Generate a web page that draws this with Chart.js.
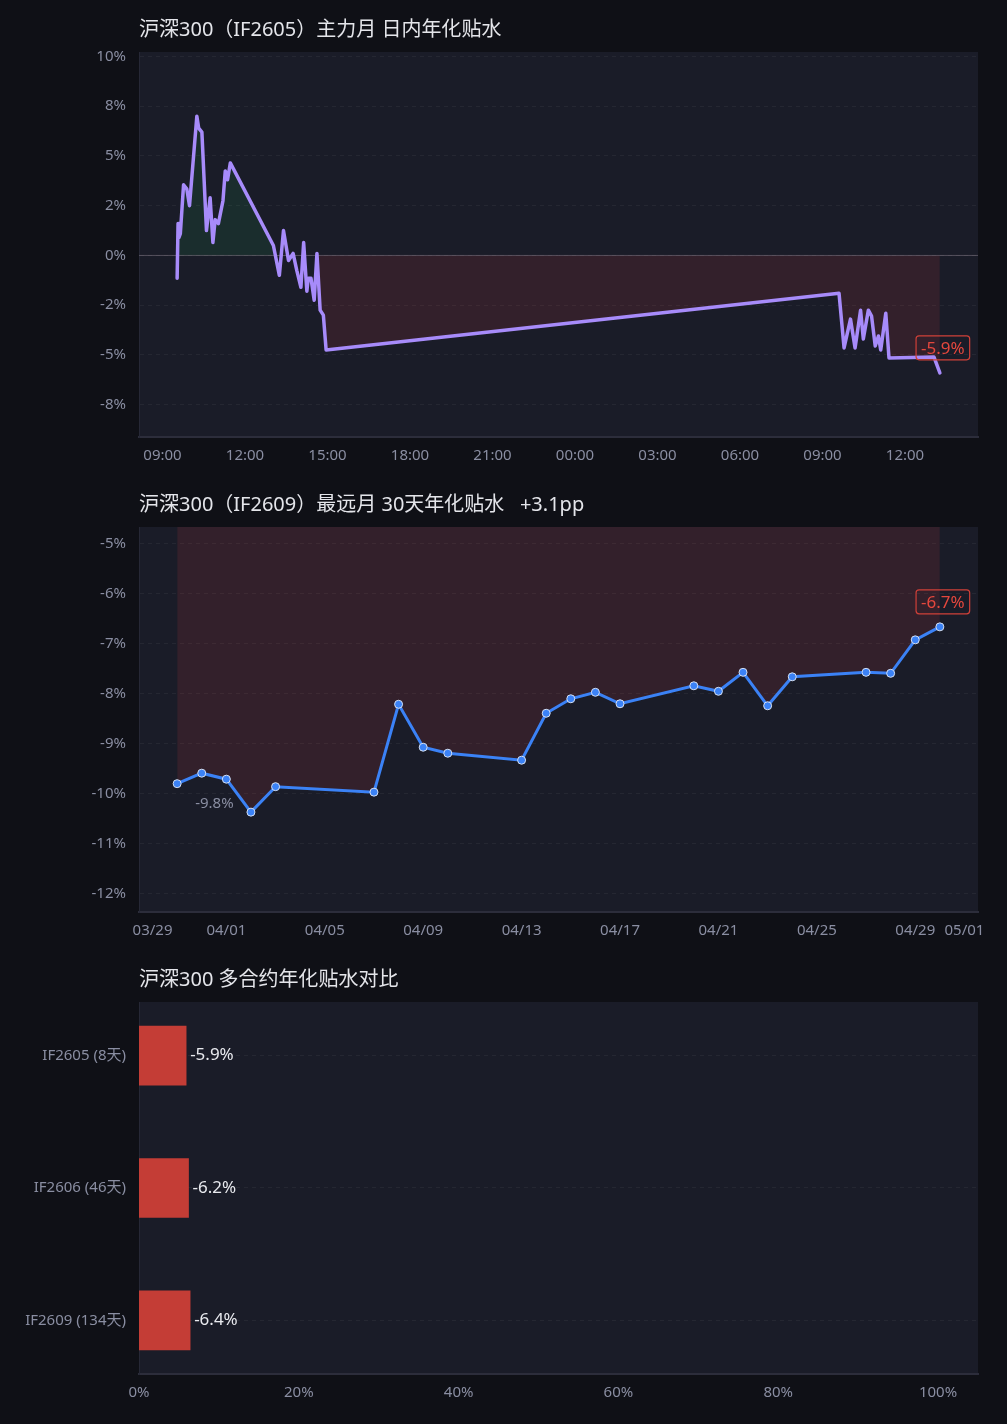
<!DOCTYPE html>
<html>
<head>
<meta charset="utf-8">
<script src="https://cdn.jsdelivr.net/npm/chart.js@4.4.1/dist/chart.umd.min.js"></script>
<style>
  html, body { margin: 0; padding: 0; background: #0f1016; }
  .block { position: relative; width: 1007px; }
  canvas { display: block; }
</style>
</head>
<body>
<div class="block" style="height:475px"><canvas id="intradayChart" width="1007" height="475"></canvas></div>
<div class="block" style="height:475px"><canvas id="farChart" width="1007" height="475"></canvas></div>
<div class="block" style="height:474px"><canvas id="compareChart" width="1007" height="474"></canvas></div>
<script>
// IF2605 intraday annualised basis (%), two sessions
const intradayTimes = [
  '04/29 09:32', '04/29 09:34', '04/29 09:36', '04/29 09:39', '04/29 09:46', '04/29 09:53', '04/29 09:59',
  '04/29 10:15', '04/29 10:19', '04/29 10:26', '04/29 10:36', '04/29 10:44', '04/29 10:50', '04/29 10:55',
  '04/29 11:02', '04/29 11:12', '04/29 11:17', '04/29 11:22', '04/29 11:28',
  '04/29 13:02', '04/29 13:15', '04/29 13:24', '04/29 13:35', '04/29 13:45', '04/29 13:53', '04/29 14:02',
  '04/29 14:08', '04/29 14:15', '04/29 14:18', '04/29 14:24', '04/29 14:31', '04/29 14:37', '04/29 14:44',
  '04/29 14:51', '04/29 14:57',
  '04/30 09:36', '04/30 09:47', '04/30 10:01', '04/30 10:11', '04/30 10:23', '04/30 10:29', '04/30 10:40',
  '04/30 10:47', '04/30 10:55', '04/30 11:02', '04/30 11:07', '04/30 11:18', '04/30 11:25', '04/30 13:03',
  '04/30 13:16'
];
const intradayValues = [
  -1.15, 1.6, 0.9, 1.1, 3.55, 3.35, 2.5,
  7.0, 6.4, 6.2, 1.25, 2.9, 0.65, 1.8,
  1.6, 2.75, 4.25, 3.8, 4.65,
  0.5, -1.0, 1.25, -0.25, 0.1, -0.75, -1.6,
  0.65, -1.8, -1.15, -1.15, -2.25, 0.1, -2.75,
  -3.0, -4.75,
  -1.9, -4.65, -3.2, -4.65, -2.75, -4.2, -2.75,
  -3.05, -4.55, -4.05, -4.75, -2.9, -5.15, -5.1,
  -5.9
];

// IF2609 daily 30-day annualised basis (%)
const farDates = [
  '03/30', '03/31', '04/01', '04/02', '04/03', '04/07', '04/08', '04/09', '04/10',
  '04/13', '04/14', '04/15', '04/16', '04/17', '04/20', '04/21', '04/22', '04/23',
  '04/24', '04/27', '04/28', '04/29', '04/30'
];
const farValues = [
  -9.8, -9.59, -9.71, -10.37, -9.86, -9.97, -8.21, -9.07, -9.19,
  -9.33, -8.39, -8.1, -7.97, -8.2, -7.84, -7.95, -7.57, -8.24,
  -7.66, -7.57, -7.59, -6.92, -6.66
];
const farTickLabels = ['03/29', '04/01', '04/05', '04/09', '04/13', '04/17', '04/21', '04/25', '04/29', '05/01'];

// contracts compared
const contractNames = ['IF2605 (8天)', 'IF2606 (46天)', 'IF2609 (134天)'];
const contractValues = [-5.9, -6.2, -6.4];
const compareTicks = [0, 20, 40, 60, 80, 100];

const YEAR = 2026;
const FONT = '"Noto Sans", "Noto Sans CJK SC", sans-serif';
const TITLE_FONT = '"Noto Sans", "Noto Sans CJK KR", "Noto Sans CJK SC", sans-serif';
const TICK_COLOR = '#8a8ea2';
const GRID_COLOR = 'rgba(255,255,255,0.05)';
const RED_FILL = 'rgba(239,68,68,0.12)';

Chart.defaults.font.family = FONT;
Chart.defaults.font.size = 15;
Chart.defaults.color = TICK_COLOR;
Chart.defaults.animation = false;

function toMinutes(s) {
  const [md, hm] = s.split(' ');
  const [m, d] = md.split('/').map(Number);
  const [h, mi] = hm.split(':').map(Number);
  return Date.UTC(YEAR, m - 1, d, h, mi) / 60000;
}
function toDays(s) {
  const [m, d] = s.split('/').map(Number);
  return Date.UTC(YEAR, m - 1, d) / 86400000;
}
// 7.5 -> 8, 2.5 -> 2 (half to even)
function roundEven(v) {
  return Math.abs(v % 1) === 0.5 ? 2 * Math.round(v / 2) : Math.round(v);
}
function padRange(vals, frac, minPad) {
  const lo = Math.min(...vals), hi = Math.max(...vals);
  const p = Math.max(minPad, (hi - lo) * frac);
  return [lo - p, hi + p];
}
function stepTicks(step) {
  return scale => {
    const out = [];
    for (let v = Math.ceil(scale.min / step - 1e-9) * step; v <= scale.max + 1e-9; v += step) {
      out.push({ value: +v.toFixed(6) });
    }
    scale.ticks = out;
  };
}

const plotBg = {
  id: 'plotBg',
  beforeDraw(chart) {
    const { ctx, chartArea: a } = chart;
    ctx.save();
    ctx.fillStyle = '#1a1c28';
    ctx.fillRect(a.left, a.top, a.right - a.left, a.bottom - a.top);
    ctx.restore();
  }
};

const zeroLine = {
  id: 'zeroLine',
  beforeDatasetsDraw(chart) {
    const y = chart.scales.y;
    if (y.min > 0 || y.max < 0) return;
    const py = y.getPixelForValue(0);
    const { ctx, chartArea: a } = chart;
    ctx.save();
    ctx.strokeStyle = 'rgba(150,140,155,0.45)';
    ctx.lineWidth = 1;
    ctx.beginPath();
    ctx.moveTo(a.left, py);
    ctx.lineTo(a.right, py);
    ctx.stroke();
    ctx.restore();
  }
};

// red box with the latest value above the last point
const lastValueBox = {
  id: 'lastValueBox',
  afterDatasetsDraw(chart) {
    const meta = chart.getDatasetMeta(0);
    const pt = meta.data[meta.data.length - 1];
    const ds = chart.data.datasets[0].data;
    const val = ds[ds.length - 1].y;
    const text = val.toFixed(1) + '%';
    const { ctx } = chart;
    ctx.save();
    ctx.font = '17px ' + FONT;
    const w = ctx.measureText(text).width + 10;
    const h = 24;
    const cx = pt.x + 3, cy = pt.y - 25;
    ctx.strokeStyle = '#cf4038';
    ctx.lineWidth = 1.2;
    ctx.beginPath();
    ctx.roundRect(cx - w / 2, cy - h / 2, w, h, 3);
    ctx.stroke();
    ctx.fillStyle = '#e4473d';
    ctx.textAlign = 'center';
    ctx.textBaseline = 'middle';
    ctx.fillText(text, cx, cy + 1);
    ctx.restore();
  }
};

// grey label for the first value
const firstValueLabel = {
  id: 'firstValueLabel',
  afterDatasetsDraw(chart) {
    const pt = chart.getDatasetMeta(0).data[0];
    const val = chart.data.datasets[0].data[0].y;
    const { ctx } = chart;
    ctx.save();
    ctx.font = '15px ' + FONT;
    ctx.fillStyle = '#8a8ea2';
    ctx.textAlign = 'left';
    ctx.textBaseline = 'middle';
    ctx.fillText(val.toFixed(1) + '%', pt.x + 18, pt.y + 20);
    ctx.restore();
  }
};

const barValueLabels = {
  id: 'barValueLabels',
  afterDatasetsDraw(chart) {
    const { ctx } = chart;
    ctx.save();
    ctx.font = '17px ' + FONT;
    ctx.fillStyle = '#e8e9ee';
    ctx.textAlign = 'left';
    ctx.textBaseline = 'middle';
    chart.getDatasetMeta(0).data.forEach((bar, i) => {
      ctx.fillText(contractValues[i].toFixed(1) + '%', bar.x + 4, bar.y);
    });
    ctx.restore();
  }
};

function titleOpts(text) {
  return {
    display: true,
    text,
    align: 'start',
    fullSize: false,
    color: '#e4e5ea',
    font: { size: 20, weight: 'normal', family: TITLE_FONT },
    padding: { top: 18, bottom: 10 }
  };
}

function baseY(range, step, fmt) {
  return {
    min: range[0],
    max: range[1],
    afterBuildTicks: stepTicks(step),
    afterFit: s => { s.width = 139; },
    grid: { color: GRID_COLOR, drawTicks: false },
    border: { color: '#262836', width: 1, dash: [4, 4] },
    ticks: { padding: 13, color: TICK_COLOR, callback: fmt }
  };
}

// ---- chart 1: intraday
const intradayPts = intradayTimes.map((t, i) => ({ x: toMinutes(t), y: intradayValues[i] }));
const greenEnd = intradayValues.findIndex((v, i) => i > 0 && v < 0) - 1;
let redStart = 0;
intradayValues.forEach((v, i) => { if (v >= 0) redStart = i; });
const xRange1 = padRange(intradayPts.map(p => p.x), 0.05, 0);
const yRange1 = padRange(intradayValues, 0.25, 2);

new Chart(document.getElementById('intradayChart'), {
  type: 'line',
  data: {
    datasets: [
      {
        data: intradayPts,
        borderColor: '#a78bfa',
        borderWidth: 3.5,
        pointRadius: 0,
        tension: 0,
        borderJoinStyle: 'round',
        borderCapStyle: 'round',
        fill: false,
        order: 0
      },
      {
        data: intradayPts.slice(0, greenEnd + 1),
        borderWidth: 0,
        pointRadius: 0,
        tension: 0,
        fill: { target: 'origin', above: 'rgba(34,197,94,0.1)', below: 'rgba(0,0,0,0)' },
        order: 1
      },
      {
        data: intradayPts.slice(redStart),
        borderWidth: 0,
        pointRadius: 0,
        tension: 0,
        fill: { target: 'origin', above: 'rgba(0,0,0,0)', below: RED_FILL },
        order: 2
      }
    ]
  },
  options: {
    responsive: false,
    layout: { padding: { left: 0, right: 29, top: 0, bottom: 0 } },
    plugins: { legend: { display: false }, tooltip: { enabled: false }, title: titleOpts('沪深300（IF2605）主力月 日内年化贴水') },
    scales: {
      x: {
        type: 'linear',
        min: xRange1[0],
        max: xRange1[1],
        afterBuildTicks: stepTicks(180),
        afterFit: s => { s.height = 38; },
        grid: { display: false, drawTicks: false },
        border: { color: '#2c2d3b', width: 2 },
        ticks: {
          padding: 10,
          color: TICK_COLOR,
          maxRotation: 0,
          callback: v => {
            const d = new Date(v * 60000);
            return String(d.getUTCHours()).padStart(2, '0') + ':' + String(d.getUTCMinutes()).padStart(2, '0');
          }
        }
      },
      y: baseY(yRange1, 2.5, v => roundEven(v) + '%')
    }
  },
  plugins: [plotBg, zeroLine, lastValueBox]
});

// ---- chart 2: far month
const farPts = farDates.map((d, i) => ({ x: toDays(d), y: farValues[i] }));
const xRange2 = padRange(farPts.map(p => p.x), 0.05, 0);
const yRange2 = padRange(farValues, 0.25, 2);

new Chart(document.getElementById('farChart'), {
  type: 'line',
  data: {
    datasets: [{
      data: farPts,
      borderColor: '#3b82f6',
      borderWidth: 3,
      pointRadius: 4,
      pointBackgroundColor: '#3b82f6',
      pointBorderColor: '#d6e0f2',
      pointBorderWidth: 1,
      tension: 0,
      fill: { target: 'origin', above: 'rgba(0,0,0,0)', below: RED_FILL }
    }]
  },
  options: {
    responsive: false,
    layout: { padding: { left: 0, right: 29, top: 0, bottom: 0 } },
    plugins: { legend: { display: false }, tooltip: { enabled: false }, title: titleOpts('沪深300（IF2609）最远月 30天年化贴水   +3.1pp') },
    scales: {
      x: {
        type: 'linear',
        min: xRange2[0],
        max: xRange2[1],
        afterBuildTicks: s => { s.ticks = farTickLabels.map(l => ({ value: toDays(l) })); },
        afterFit: s => { s.height = 38; },
        grid: { display: false, drawTicks: false },
        border: { color: '#2c2d3b', width: 2 },
        ticks: {
          padding: 10,
          color: TICK_COLOR,
          maxRotation: 0,
          autoSkip: false,
          callback: (v, i) => farTickLabels[i]
        }
      },
      y: baseY(yRange2, 1, v => Math.round(v) + '%')
    }
  },
  plugins: [plotBg, lastValueBox, firstValueLabel]
});

// ---- chart 3: contract comparison
new Chart(document.getElementById('compareChart'), {
  type: 'bar',
  data: {
    datasets: [{
      data: contractNames.map((n, i) => ({ x: Math.abs(contractValues[i]), y: i })),
      backgroundColor: '#c43d36',
      borderWidth: 0,
      barThickness: 59
    }]
  },
  options: {
    responsive: false,
    indexAxis: 'y',
    layout: { padding: { left: 0, right: 29, top: 0, bottom: 0 } },
    plugins: { legend: { display: false }, tooltip: { enabled: false }, title: titleOpts('沪深300 多合约年化贴水对比') },
    scales: {
      x: {
        type: 'linear',
        min: 0,
        max: 105,
        afterBuildTicks: s => { s.ticks = compareTicks.map(v => ({ value: v })); },
        afterFit: s => { s.height = 50; },
        grid: { display: false, drawTicks: false },
        border: { color: '#2c2d3b', width: 2 },
        ticks: { padding: 10, color: TICK_COLOR, maxRotation: 0, callback: v => v + '%' }
      },
      y: {
        type: 'linear',
        reverse: true,
        offset: false,
        min: -0.405,
        max: contractNames.length - 1 + 0.405,
        afterBuildTicks: s => { s.ticks = contractNames.map((n, i) => ({ value: i })); },
        afterFit: s => { s.width = 139; },
        grid: { color: GRID_COLOR, drawTicks: false, offset: false },
        border: { color: '#262836', width: 1, dash: [4, 4] },
        ticks: { padding: 13, color: TICK_COLOR, callback: (v, i) => contractNames[i] }
      }
    }
  },
  plugins: [plotBg, barValueLabels]
});
</script>
</body>
</html>
